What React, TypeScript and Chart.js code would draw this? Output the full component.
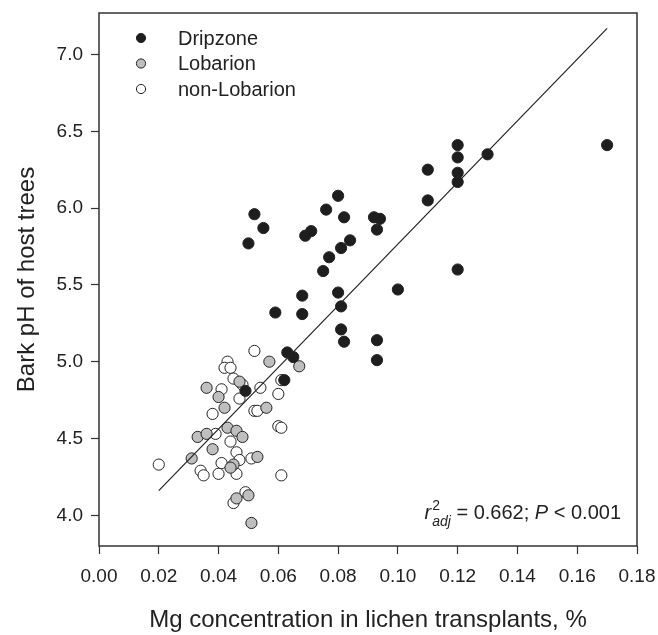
import React, { useEffect, useRef } from "react";
import { Chart, registerables } from "chart.js";

Chart.register(...registerables);

const xTicks = [0, 0.02, 0.04, 0.06, 0.08, 0.1, 0.12, 0.14, 0.16, 0.18];
const yTicks = [4.0, 4.5, 5.0, 5.5, 6.0, 6.5, 7.0];

const dripX = [0.052, 0.055, 0.050, 0.080, 0.076, 0.082, 0.092, 0.094, 0.093, 0.069, 0.071, 0.084, 0.081, 0.077, 0.075, 0.100, 0.068, 0.080, 0.081, 0.059, 0.068, 0.081, 0.082, 0.093, 0.093, 0.063, 0.065, 0.120, 0.120, 0.130, 0.110, 0.120, 0.120, 0.110, 0.120, 0.170, 0.062, 0.049];
const dripY = [5.96, 5.87, 5.77, 6.08, 5.99, 5.94, 5.94, 5.93, 5.86, 5.82, 5.85, 5.79, 5.74, 5.68, 5.59, 5.47, 5.43, 5.45, 5.36, 5.32, 5.31, 5.21, 5.13, 5.14, 5.01, 5.06, 5.03, 6.41, 6.33, 6.35, 6.25, 6.23, 6.17, 6.05, 5.60, 6.41, 4.88, 4.81];

const lobX = [0.057, 0.067, 0.047, 0.036, 0.040, 0.042, 0.056, 0.043, 0.046, 0.048, 0.033, 0.036, 0.038, 0.031, 0.053, 0.045, 0.044, 0.046, 0.050, 0.051];
const lobY = [5.00, 4.97, 4.87, 4.83, 4.77, 4.70, 4.70, 4.57, 4.55, 4.51, 4.51, 4.53, 4.43, 4.37, 4.38, 4.33, 4.31, 4.11, 4.13, 3.95];

const nonX = [0.052, 0.043, 0.042, 0.044, 0.045, 0.048, 0.054, 0.061, 0.041, 0.047, 0.060, 0.038, 0.052, 0.053, 0.060, 0.061, 0.039, 0.044, 0.046, 0.047, 0.051, 0.041, 0.020, 0.034, 0.035, 0.040, 0.046, 0.061, 0.049, 0.045];
const nonY = [5.07, 5.00, 4.96, 4.96, 4.89, 4.85, 4.83, 4.88, 4.82, 4.76, 4.79, 4.66, 4.68, 4.68, 4.58, 4.57, 4.53, 4.48, 4.41, 4.36, 4.37, 4.34, 4.33, 4.29, 4.26, 4.27, 4.27, 4.26, 4.15, 4.08];

const fitX = [0.02, 0.17];
const fitY = [4.16, 7.17];

const seriesNames = ["Dripzone", "Lobarion", "non-Lobarion"];
const seriesFill = ["#1e1e1e", "#bfbfbf", "#ffffff"];

const FONT = "'Liberation Sans', Arial, Helvetica, sans-serif";
const INK = "#222222";

const toPts = (xs: number[], ys: number[]) => xs.map((x, i) => ({ x, y: ys[i] }));

const decorPlugin = {
  id: "decor",
  afterDraw(chart: any) {
    const { ctx, chartArea } = chart;
    const { left, top, right, bottom } = chartArea;
    ctx.save();
    // frame
    ctx.strokeStyle = "#333";
    ctx.lineWidth = 1.5;
    ctx.strokeRect(left, top, right - left, bottom - top);

    // legend
    const lx = left + 42;
    const ly = [top + 25, top + 50.5, top + 76];
    ctx.textBaseline = "middle";
    ctx.textAlign = "left";
    ctx.font = `20px ${FONT}`;
    seriesNames.forEach((name, i) => {
      ctx.beginPath();
      ctx.arc(lx, ly[i], 4.6, 0, Math.PI * 2);
      ctx.fillStyle = seriesFill[i];
      ctx.fill();
      ctx.lineWidth = 1;
      ctx.strokeStyle = "#222";
      ctx.stroke();
      ctx.fillStyle = INK;
      ctx.fillText(name, lx + 37, ly[i] + 1);
    });

    // annotation
    const base = 519;
    const rightEdge = 621;
    const fMain = `20px ${FONT}`;
    const fIt = `italic 20px ${FONT}`;
    const fSmall = `14px ${FONT}`;
    const fSmallIt = `italic 14px ${FONT}`;
    const rest = [
      { t: " = 0.662; ", f: fMain },
      { t: "P", f: fIt },
      { t: " < 0.001", f: fMain },
    ];
    ctx.textBaseline = "alphabetic";
    ctx.font = fIt;
    const wr = ctx.measureText("r").width;
    ctx.font = fSmall;
    const w2 = ctx.measureText("2").width;
    ctx.font = fSmallIt;
    const wadj = ctx.measureText("adj").width;
    let wrest = 0;
    rest.forEach((p) => {
      ctx.font = p.f;
      wrest += ctx.measureText(p.t).width;
    });
    const total = wr + 1 + Math.max(w2, wadj) + wrest;
    let x = rightEdge - total;
    ctx.fillStyle = INK;
    ctx.font = fIt;
    ctx.fillText("r", x, base);
    x += wr + 1;
    ctx.font = fSmall;
    ctx.fillText("2", x, base - 9);
    ctx.font = fSmallIt;
    ctx.fillText("adj", x, base + 7);
    x += Math.max(w2, wadj);
    rest.forEach((p) => {
      ctx.font = p.f;
      ctx.fillText(p.t, x, base);
      x += ctx.measureText(p.t).width;
    });
    ctx.restore();
  },
};

export default function App() {
  const ref = useRef<HTMLCanvasElement | null>(null);

  useEffect(() => {
    if (!ref.current) return;
    const pointStyle = (i: number) => ({
      pointRadius: 5.6,
      pointBorderWidth: 1,
      pointBorderColor: "#222",
      pointBackgroundColor: seriesFill[i],
      backgroundColor: seriesFill[i],
      borderColor: "#222",
      showLine: false,
    });
    const chart = new Chart(ref.current, {
      type: "scatter",
      data: {
        datasets: [
          {
            label: "fit",
            data: toPts(fitX, fitY),
            showLine: true,
            borderColor: "#222",
            borderWidth: 1.2,
            pointRadius: 0,
            fill: false,
          } as any,
          { label: seriesNames[0], data: toPts(dripX, dripY), ...pointStyle(0) },
          { label: seriesNames[1], data: toPts(lobX, lobY), ...pointStyle(1) },
          { label: seriesNames[2], data: toPts(nonX, nonY), ...pointStyle(2) },
        ],
      },
      options: {
        animation: false,
        responsive: false,
        devicePixelRatio: 1,
        events: [],
        layout: { padding: { top: 13, right: 21, left: 0, bottom: 0 } },
        plugins: {
          legend: { display: false },
          tooltip: { enabled: false },
        },
        scales: {
          x: {
            type: "linear",
            min: 0,
            max: 0.18,
            afterBuildTicks: (s: any) => {
              s.ticks = xTicks.map((v) => ({ value: v }));
            },
            afterFit: (s: any) => {
              s.height = 89;
              s.paddingLeft = 0;
              s.paddingRight = 0;
              s.paddingTop = 0;
              s.paddingBottom = 0;
            },
            grid: {
              drawOnChartArea: false,
              drawTicks: true,
              tickLength: 8,
              tickWidth: 1.2,
              tickColor: "#333",
            },
            border: { display: false },
            ticks: {
              color: INK,
              font: { family: FONT, size: 19 },
              padding: 11,
              maxRotation: 0,
              callback: (v: any) => Number(v).toFixed(2),
            },
            title: {
              display: true,
              text: "Mg concentration in lichen transplants, %",
              color: INK,
              font: { family: FONT, size: 24 },
              padding: { top: 0, bottom: 0 },
            },
          },
          y: {
            type: "linear",
            min: 3.8,
            max: 7.27,
            afterBuildTicks: (s: any) => {
              s.ticks = yTicks.map((v) => ({ value: v }));
            },
            afterFit: (s: any) => {
              s.width = 99;
              s.paddingLeft = 0;
              s.paddingRight = 0;
              s.paddingTop = 0;
              s.paddingBottom = 0;
            },
            grid: {
              drawOnChartArea: false,
              drawTicks: true,
              tickLength: 8,
              tickWidth: 1.2,
              tickColor: "#333",
            },
            border: { display: false },
            ticks: {
              color: INK,
              font: { family: FONT, size: 19 },
              padding: 8,
              callback: (v: any) => Number(v).toFixed(1),
            },
            title: {
              display: true,
              text: "Bark pH of host trees",
              color: INK,
              font: { family: FONT, size: 24 },
              padding: { top: 13, bottom: 0 },
            },
          },
        },
      },
      plugins: [decorPlugin],
    });
    return () => chart.destroy();
  }, []);

  return (
    <div style={{ position: "fixed", left: 0, top: 0, width: 658, height: 635, background: "#fff" }}>
      <canvas ref={ref} width={658} height={635} style={{ width: 658, height: 635, display: "block" }} />
    </div>
  );
}
